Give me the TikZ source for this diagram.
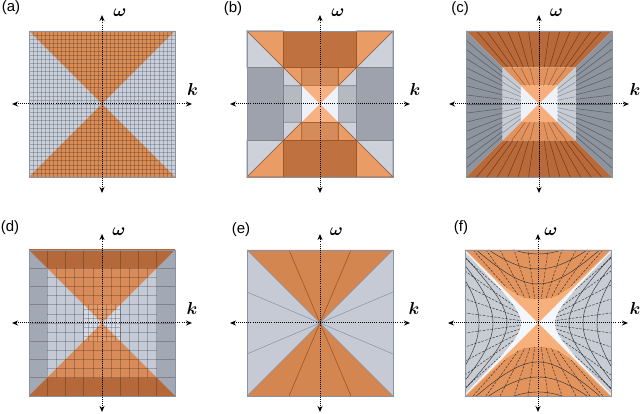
\documentclass[tikz,border=0pt]{standalone}
\usepackage{amsmath}
\usepackage{bm}
\usepackage{fontspec}
\newfontfamily\labfont{Liberation Sans}
\usetikzlibrary{arrows.meta}
% colours
\definecolor{aO}{HTML}{D98C56}\definecolor{aG}{HTML}{C9D0DC}
\definecolor{bOa}{HTML}{C07140}\definecolor{bGa}{HTML}{9DA2AC}
\definecolor{bOc}{HTML}{E99C66}\definecolor{bGc}{HTML}{CDD1D9}
\definecolor{bOb}{HTML}{D68B5B}\definecolor{bGb}{HTML}{B4B9C2}
\definecolor{bO3}{HTML}{F7B183}\definecolor{bW3}{HTML}{EEF2F8}
\definecolor{bOl}{HTML}{A0552A}\definecolor{bGl}{HTML}{7E848E}
\definecolor{cO1}{HTML}{B86A3B}\definecolor{cG1}{HTML}{8E949E}
\definecolor{cO2}{HTML}{E0935E}\definecolor{cG2}{HTML}{C7CBD3}
\definecolor{cO3}{HTML}{F6AF7C}\definecolor{cW3}{HTML}{EEF2F8}
\definecolor{cOl1}{HTML}{7A3C18}\definecolor{cGl1}{HTML}{5A606B}
\definecolor{cOl2}{HTML}{A65C2C}\definecolor{cGl2}{HTML}{8A909B}
\definecolor{dO1}{HTML}{B5693B}\definecolor{dG1}{HTML}{A3A9B4}
\definecolor{dO2}{HTML}{D98C59}\definecolor{dG2}{HTML}{C4CBD7}
\definecolor{dO3}{HTML}{E59967}\definecolor{dG3}{HTML}{D6DCE6}
\definecolor{eO}{HTML}{D3864F}\definecolor{eG}{HTML}{C5CAD5}
\definecolor{eOl}{HTML}{9A5123}\definecolor{eGl}{HTML}{8E97A6}
\definecolor{fO}{HTML}{E3945D}\definecolor{fP}{HTML}{F8B07B}
\definecolor{fG}{HTML}{C8CCD5}\definecolor{fW}{HTML}{F3F6FA}
\definecolor{frameC}{HTML}{8A93A3}

\newcommand\mkAxes[3]{%
  \coordinate (#1L) at (-90,0); \coordinate (#1R) at (90,0);
  \coordinate (#1B) at (0,-89); \coordinate (#1T) at (0,89);
  \draw[axisline] (#1L) -- (#1R);
  \draw[axisline] (#1B) -- (#1T);
  \node[mlab] (#1w) at (#2,91) {$\bm{\omega}$};
  \node[mlab] (#1k) at (#3,14) {$\bm{k}$};
}
\newcommand\mkBlevel[6]{%
  \filldraw[fill=#3,draw=bOl,bline] (-#2,#2) rectangle (#2,#1);
  \filldraw[fill=#3,draw=bOl,bline] (-#2,-#1) rectangle (#2,-#2);
  \filldraw[fill=#4,draw=bGl,bline] (-#1,-#2) rectangle (-#2,#2);
  \filldraw[fill=#4,draw=bGl,bline] (#2,-#2) rectangle (#1,#2);
  \foreach \sx/\sy in {1/1,1/-1,-1/1,-1/-1}{%
    \filldraw[fill=#6,draw=bGl,bline] ({\sx*#2},{\sy*#2}) -- ({\sx*#1},{\sy*#1}) -- ({\sx*#1},{\sy*#2}) -- cycle;
    \filldraw[fill=#5,draw=bOl,bline] ({\sx*#2},{\sy*#2}) -- ({\sx*#1},{\sy*#1}) -- ({\sx*#2},{\sy*#1}) -- cycle;
  }}
\newcommand\mkClevel[8]{%
  \fill[#3] (-#1,#1) -- (#1,#1) -- (#2,#2) -- (-#2,#2) -- cycle;
  \fill[#3] (-#1,-#1) -- (#1,-#1) -- (#2,-#2) -- (-#2,-#2) -- cycle;
  \fill[#4] (-#1,-#1) -- (-#1,#1) -- (-#2,#2) -- (-#2,-#2) -- cycle;
  \fill[#4] (#1,-#1) -- (#1,#1) -- (#2,#2) -- (#2,-#2) -- cycle;
  \pgfmathtruncatemacro\nA{#5-1}
  \foreach \i in {1,...,\nA}{%
    \pgfmathsetmacro\tv{-1+2*\i/#5}
    \draw[cline,#7] ({\tv*#1},#1) -- ({\tv*#2},#2);
    \draw[cline,#7] ({\tv*#1},-#1) -- ({\tv*#2},-#2);}
  \pgfmathtruncatemacro\nB{#6-1}
  \foreach \i in {1,...,\nB}{%
    \pgfmathsetmacro\tv{-1+2*\i/#6}
    \draw[cline,#8] (-#1,{\tv*#1}) -- (-#2,{\tv*#2});
    \draw[cline,#8] (#1,{\tv*#1}) -- (#2,{\tv*#2});}
}
\newcommand\mkDlevel[6]{%
  \fill[#3] (-#1,-#1) rectangle (#1,#1);
  \begin{scope}
    \clip (-#1,-#1) rectangle (#1,#1);
    \fill[#4] (-80,80) -- (80,80) -- (0,0) -- cycle;
    \fill[#4] (-80,-80) -- (80,-80) -- (0,0) -- cycle;
  \end{scope}
  \foreach \i in {#6}{%
    \draw[dgrid] ({\i*#2},-#1) -- ({\i*#2},#1);
    \draw[dgrid] (-#1,{\i*#2}) -- (#1,{\i*#2});}
  \draw[dgrid] (-#1,-#1) rectangle (#1,#1);
}

\begin{document}
\begin{tikzpicture}[x=1pt,y=1pt,
  axisline/.style={line width=1pt, dash pattern=on 1pt off 1.1pt,
     {Stealth[length=6pt,width=5pt]}-{Stealth[length=6pt,width=5pt]}},
  mlab/.style={inner sep=0pt, font=\fontsize{17}{20}\selectfont},
  plab/.style={inner sep=0pt, font=\labfont\fontsize{15}{18}\selectfont},
  frame/.style={draw=frameC, line width=0.8pt},
  agrid/.style={draw=black, opacity=0.2, line width=0.55pt},
  bline/.style={line width=0.6pt},
  cline/.style={line width=0.55pt},
  dgrid/.style={draw=black, opacity=0.22, line width=0.6pt},
  fline/.style={draw=black!80, line width=0.45pt},
  fdash/.style={draw=black!80, line width=0.45pt, dash pattern=on 2.5pt off 1.3pt}]
\useasboundingbox (0,0) rectangle (640,414);

% panel labels
\node[plab] (la) at (11,406) {(a)};
\node[plab] (lb) at (233,405) {(b)};
\node[plab] (lc) at (460,405.5) {(c)};
\node[plab] (ld) at (10,186) {(d)};
\node[plab] (le) at (241,184) {(e)};
\node[plab] (lf) at (461,186) {(f)};

% ---------- (a)
\begin{scope}[shift={(102,310)}]
  \fill[aG] (-73,-73) rectangle (73,73);
  \fill[aO] (-73,73) -- (73,73) -- (0,0) -- cycle;
  \fill[aO] (-73,-73) -- (73,-73) -- (0,0) -- cycle;
  \foreach \i in {-17,...,17}{%
    \draw[agrid] ({\i*146/36},-73) -- ({\i*146/36},73);
    \draw[agrid] (-73,{\i*146/36}) -- (73,{\i*146/36});}
  \draw[frame] (-73,-73) rectangle (73,73);
  \mkAxes{a}{18}{90.5}
\end{scope}

% ---------- (b)
\begin{scope}[shift={(320,310)}]
  \mkBlevel{73}{36.5}{bOa}{bGa}{bOc}{bGc}
  \mkBlevel{36.5}{18.25}{bOb}{bGb}{bOc}{bGc}
  \fill[bW3] (-18.25,-18.25) -- (-18.25,18.25) -- (0,0) -- cycle;
  \fill[bW3] (18.25,-18.25) -- (18.25,18.25) -- (0,0) -- cycle;
  \fill[bO3] (-18.25,18.25) -- (18.25,18.25) -- (0,0) -- cycle;
  \fill[bO3] (-18.25,-18.25) -- (18.25,-18.25) -- (0,0) -- cycle;
  \draw[frame] (-73,-73) rectangle (73,73);
  \mkAxes{b}{18}{95}
\end{scope}

% ---------- (c)
\begin{scope}[shift={(539,310)}]
  \mkClevel{73}{36.5}{cO1}{cG1}{14}{16}{cOl1}{cGl1}
  \mkClevel{36.5}{18.25}{cO2}{cG2}{8}{10}{cOl2}{cGl2}
  \fill[cW3] (-18.25,-18.25) -- (-18.25,18.25) -- (0,0) -- cycle;
  \fill[cW3] (18.25,-18.25) -- (18.25,18.25) -- (0,0) -- cycle;
  \fill[cO3] (-18.25,18.25) -- (18.25,18.25) -- (0,0) -- cycle;
  \fill[cO3] (-18.25,-18.25) -- (18.25,-18.25) -- (0,0) -- cycle;
  \draw[frame] (-73,-73) rectangle (73,73);
  \mkAxes{c}{17.5}{96}
\end{scope}

% ---------- (d)
\begin{scope}[shift={(102,91)}]
  \mkDlevel{73}{18.25}{dG1}{dO1}{}{-3,...,3}
  \mkDlevel{54.75}{9.125}{dG2}{dO2}{}{-5,...,5}
  \mkDlevel{18.25}{4.5625}{dG3}{dO3}{}{-3,...,3}
  \draw[frame] (-73,-73) rectangle (73,73);
  \mkAxes{d}{17}{90}
\end{scope}

% ---------- (e)
\begin{scope}[shift={(320,91)}]
  \fill[eG] (-73,-73) rectangle (73,73);
  \fill[eO] (-73,73) -- (73,73) -- (0,0) -- cycle;
  \fill[eO] (-73,-73) -- (73,-73) -- (0,0) -- cycle;
  \coordinate (eo) at (0,0);
  \foreach \p in {(-31,73),(31,73),(-31,-73),(31,-73)} \draw[eOl, line width=0.55pt] (eo) -- \p;
  \foreach \p in {(-73,31),(-73,-31),(73,31),(73,-31)} \draw[eGl, line width=0.55pt] (eo) -- \p;
  \draw[eGl, line width=0.5pt] (-73,73) -- (73,-73) (-73,-73) -- (73,73);
  \draw[frame] (-73,-73) rectangle (73,73);
  \mkAxes{e}{16.5}{94}
\end{scope}

% ---------- (f)
\begin{scope}[shift={(538,91)}]
  \pgfmathsetmacro\kb{73*(1-0.03554)^(0.333333)}
  \pgfmathsetmacro\ya{sqrt(73*73-17*17)}
  \fill[fW] (-73,-73) rectangle (73,73);
  \fill[fP] (-73,73) -- (73,73) -- (0,0) -- cycle;
  \fill[fP] (-73,-73) -- (73,-73) -- (0,0) -- cycle;
  \fill[fO] plot[domain=-\kb:\kb,samples=80] (\x,{73*((abs(\x)/73)^3+0.03554)^(0.333333)}) -- cycle;
  \fill[fO] plot[domain=-\kb:\kb,samples=80] (\x,{-73*((abs(\x)/73)^3+0.03554)^(0.333333)}) -- cycle;
  \fill[fG] plot[domain=-\ya:\ya,samples=60] ({sqrt(\x*\x+289)},\x) -- cycle;
  \fill[fG] plot[domain=-\ya:\ya,samples=60] ({-sqrt(\x*\x+289)},\x) -- cycle;
  \begin{scope}
    \clip plot[domain=-\kb:\kb,samples=80] (\x,{73*((abs(\x)/73)^3+0.03554)^(0.333333)}) -- cycle;
    \foreach \cc in {39,54,69} \draw[fline] plot[domain=-73:73,samples=50] (\x,{sqrt(\x*\x+\cc*\cc)});
    \foreach \kk in {-65,-52,-38,-24,-10,10,24,38,52,65} \draw[fdash] (0,0) -- (\kk,73);
  \end{scope}
  \begin{scope}
    \clip plot[domain=-\kb:\kb,samples=80] (\x,{-73*((abs(\x)/73)^3+0.03554)^(0.333333)}) -- cycle;
    \foreach \cc in {39,54,69} \draw[fline] plot[domain=-73:73,samples=50] (\x,{-sqrt(\x*\x+\cc*\cc)});
    \foreach \kk in {-65,-52,-38,-24,-10,10,24,38,52,65} \draw[fdash] (0,0) -- (\kk,-73);
  \end{scope}
  \begin{scope}
    \clip plot[domain=-\ya:\ya,samples=60] ({sqrt(\x*\x+289)},\x) -- cycle;
    \foreach \cc in {31,45,59} \draw[fline] plot[domain=-73:73,samples=50] ({sqrt(\x*\x+\cc*\cc)},\x);
    \foreach \kk in {-65,-52,-38,-24,-10,10,24,38,52,65} \draw[fdash] (0,0) -- (73,\kk);
  \end{scope}
  \begin{scope}
    \clip plot[domain=-\ya:\ya,samples=60] ({-sqrt(\x*\x+289)},\x) -- cycle;
    \foreach \cc in {31,45,59} \draw[fline] plot[domain=-73:73,samples=50] ({-sqrt(\x*\x+\cc*\cc)},\x);
    \foreach \kk in {-65,-52,-38,-24,-10,10,24,38,52,65} \draw[fdash] (0,0) -- (-73,\kk);
  \end{scope}
  \draw[frame] (-73,-73) rectangle (73,73);
  \mkAxes{f}{13}{97}
\end{scope}
\end{tikzpicture}
\end{document}
